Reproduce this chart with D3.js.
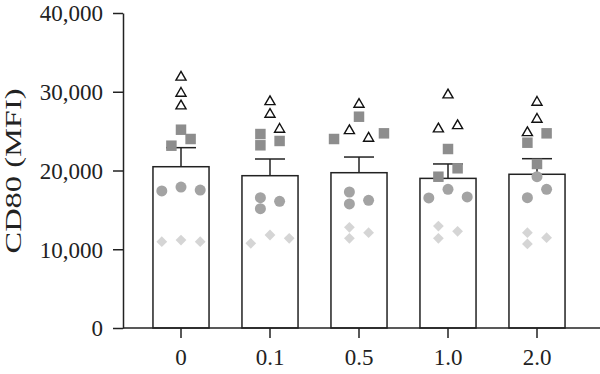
<!DOCTYPE html>
<html>
<head>
<meta charset="utf-8">
<script src="https://cdn.jsdelivr.net/npm/d3@7"></script>
<style>
  body { margin: 0; background: #fff; }
  svg { display: block; }
  text { font-family: "Liberation Serif", "DejaVu Serif", serif; fill: #222; }
</style>
</head>
<body>
<svg id="chart" width="600" height="374"></svg>
<script>
// dose groups and bar values (CD80 MFI)
var doses = ["0", "0.1", "0.5", "1.0", "2.0"];
var meanMFI = [20480, 19340, 19720, 19000, 19520];
var semMFI = [2420, 2120, 1990, 1830, 1980];
var yTicks = [0, 10000, 20000, 30000, 40000];

// individual donors, 3 per marker type per dose
var triangles = [[31840, 29800, 28190], [28740, 27130, 25230], [28400, 25050, 24090], [29590, 25270, 25690], [28660, 26500, 24800]];
var squares = [[25180, 24000, 23150], [24630, 23200, 23750], [26830, 24000, 24720], [22730, 20280, 19210], [24720, 23530, 20830]];
var circles = [[17400, 17900, 17520], [16550, 15150, 16090], [17270, 15750, 16220], [17610, 16510, 16640], [19210, 17610, 16550]];
var diamonds = [[10960, 11170, 10960], [10750, 11810, 11390], [12790, 11390, 12100], [12950, 11390, 12280], [12100, 10670, 11470]];

// scatter slot (column) of each point inside its bar
var triSlot = [[0, 0, 0], [0, 0, 1], [0, -1, 1], [0, -1, 1], [0, 0, -1]];
var sqSlot = [[0, 1, -1], [-1, -1, 1], [0, -2.6, 2.6], [0, 1, -1], [1, -1, 0]];
var cirSlot = [[-2, 0, 2], [-1, -1, 1], [-1, -1, 1], [0, -2, 2], [0, 1, -1]];
var diaSlot = [[-2, 0, 2], [-2, 0, 2], [-1, -1, 1], [-1, -1, 1], [-1, -1, 1]];

var svg = d3.select('#chart');
var axisX0 = 123, axisX1 = 600, plotTop = 13, plotBottom = 328;
var slotW = 9.6;

var x = d3.scaleBand()
    .domain(doses)
    .range([136.5, 581.5])
    .paddingInner(0.37)
    .paddingOuter(0.185);

var y = d3.scaleLinear()
    .domain([0, 40000])
    .range([plotBottom, plotTop]);

// bars
svg.selectAll('rect.bar')
    .data(doses)
    .enter()
    .append('rect')
    .attr('class', 'bar')
    .attr('x', d => x(d))
    .attr('y', (d, i) => y(meanMFI[i]))
    .attr('width', x.bandwidth())
    .attr('height', (d, i) => plotBottom - y(meanMFI[i]))
    .attr('fill', '#fff')
    .attr('stroke', '#222')
    .attr('stroke-width', 1.5);

// error bars (upper only)
var err = svg.append('g').attr('class', 'err');
doses.forEach(function (d, i) {
    var cx = x(d) + x.bandwidth() / 2;
    err.append('line')
        .attr('x1', cx).attr('x2', cx)
        .attr('y1', y(meanMFI[i])).attr('y2', y(meanMFI[i] + semMFI[i]));
    err.append('line')
        .attr('x1', cx - 15).attr('x2', cx + 15)
        .attr('y1', y(meanMFI[i] + semMFI[i])).attr('y2', y(meanMFI[i] + semMFI[i]));
});
err.selectAll('line').attr('stroke', '#222').attr('stroke-width', 1.5);

// flatten points
function pts(values, slots, kind) {
    var out = [];
    values.forEach(function (arr, gi) {
        arr.forEach(function (v, k) {
            out.push({ dose: doses[gi], v: v, slot: slots[gi][k], kind: kind });
        });
    });
    return out;
}

var markers = {
    diamond: { sym: d3.symbolSquare, size: 58, fill: '#d5d5d5', stroke: 'none', rot: 45 },
    circle: { sym: d3.symbolCircle, size: 95, fill: '#a3a3a3', stroke: 'none', rot: 0 },
    square: { sym: d3.symbolSquare, size: 110, fill: '#8d8d8d', stroke: 'none', rot: 0 },
    triangle: { sym: d3.symbolTriangle, size: 44, fill: '#fff', stroke: '#111', rot: 0 }
};

var allPts = pts(diamonds, diaSlot, 'diamond')
    .concat(pts(circles, cirSlot, 'circle'))
    .concat(pts(squares, sqSlot, 'square'))
    .concat(pts(triangles, triSlot, 'triangle'));

svg.append('g').selectAll('path')
    .data(allPts)
    .enter()
    .append('path')
    .attr('d', d => d3.symbol().type(markers[d.kind].sym).size(markers[d.kind].size)())
    .attr('transform', d => 'translate(' + (x(d.dose) + x.bandwidth() / 2 + d.slot * slotW) + ',' + y(d.v) + ') rotate(' + markers[d.kind].rot + ')')
    .attr('fill', d => markers[d.kind].fill)
    .attr('stroke', d => markers[d.kind].stroke)
    .attr('stroke-width', 1.4);

// axes
var yAxis = d3.axisLeft(y).tickValues(yTicks).tickFormat(d3.format(',')).tickSize(10).tickPadding(10).tickSizeOuter(0);
var gy = svg.append('g')
    .attr('transform', 'translate(' + axisX0 + ',0)')
    .call(yAxis);
gy.attr('font-size', null).attr('font-family', null);
gy.selectAll('text').style('font-size', '23px').attr('dy', '0.34em');

var xAxis = d3.axisBottom(x).tickSize(10).tickPadding(11).tickSizeOuter(0);
var gx = svg.append('g')
    .attr('transform', 'translate(0,' + plotBottom + ')')
    .call(xAxis);
gx.attr('font-size', null).attr('font-family', null);
gx.select('.domain').remove();
gx.append('line')
    .attr('x1', axisX0).attr('x2', axisX1)
    .attr('y1', 0).attr('y2', 0);
gx.selectAll('text').style('font-size', '23px');

gy.selectAll('.domain, .tick line').attr('stroke', '#222').attr('stroke-width', 1.5);
gx.selectAll('line').attr('stroke', '#222').attr('stroke-width', 1.5);

svg.append('text')
    .attr('transform', 'translate(21,171) rotate(-90)')
    .attr('text-anchor', 'middle')
    .attr('textLength', 165)
    .attr('lengthAdjust', 'spacingAndGlyphs')
    .style('font-size', '23px')
    .text('CD80 (MFI)');
</script>
</body>
</html>
